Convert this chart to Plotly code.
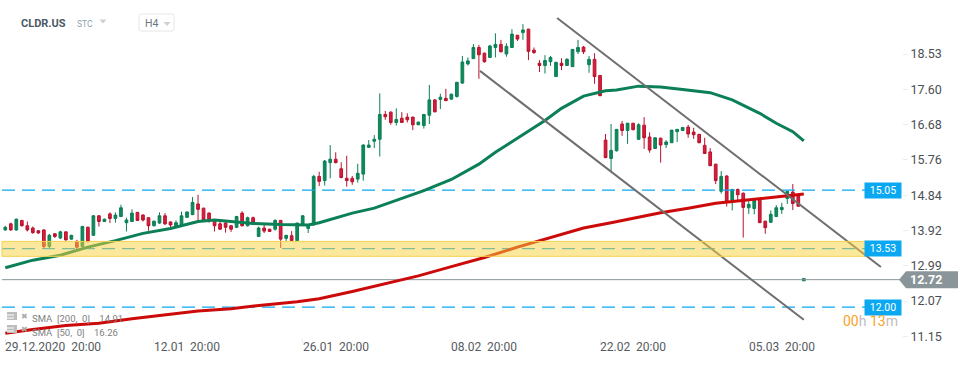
import plotly.graph_objects as go

symbol = "CLDR.US"
opens = [13.93,14.09,13.93,14.18,14.04,13.98,13.91,13.93,13.50,13.83,13.72,13.88,13.69,13.63,13.50,14.00,13.79,14.30,14.15,14.35,
14.23,14.28,14.12,14.15,14.39,14.32,14.25,14.04,14.11,14.30,14.14,14.02,14.06,14.26,14.33,14.61,14.50,14.37,14.18,14.09,
14.11,14.04,14.00,14.37,14.04,14.25,13.76,13.98,13.95,13.95,14.18,13.71,13.78,13.65,14.06,13.97,14.06,15.33,15.22,15.69,
15.78,15.53,15.28,15.28,15.26,15.39,16.09,16.25,16.30,16.95,17.01,16.74,16.85,16.88,16.88,16.68,16.66,16.93,17.33,17.34,
17.37,17.35,17.42,17.77,18.27,18.41,18.70,18.55,18.44,18.70,18.78,18.53,18.70,19.02,19.09,19.18,18.63,18.29,18.23,18.33,
17.94,18.29,18.23,18.20,18.59,18.71,18.25,18.39,17.97,16.28,15.80,16.00,16.70,16.53,16.72,16.30,16.67,16.36,16.06,16.33,
16.16,16.21,16.50,16.53,16.62,16.49,16.43,16.14,15.97,15.65,14.94,15.34,14.71,14.99,14.89,14.51,14.49,14.75,14.16,14.13,
14.28,14.46,14.75,14.92,14.82,12.60]
highs = [14.04,14.12,14.23,14.19,14.15,14.02,13.92,13.95,13.83,13.85,13.91,13.89,13.80,13.67,14.04,14.02,14.32,14.32,14.23,14.39,
14.39,14.59,14.25,14.47,14.39,14.34,14.26,14.17,14.39,14.37,14.15,14.18,14.41,14.41,14.79,14.85,14.51,14.39,14.21,14.15,
14.15,14.06,14.30,14.42,14.28,14.28,14.02,14.06,13.96,14.21,14.19,13.80,13.90,14.12,14.32,14.08,15.37,15.45,15.76,16.15,
15.96,15.70,15.87,15.34,15.66,16.17,16.28,16.41,17.50,17.04,17.03,17.11,17.01,16.98,16.89,16.76,16.95,17.72,17.35,17.49,
17.62,17.49,17.80,18.48,18.44,18.79,18.77,18.57,18.77,19.07,18.90,18.81,19.18,19.03,19.31,19.19,18.70,18.37,18.50,18.48,
18.33,18.42,18.42,18.65,18.90,18.74,18.48,18.55,17.98,16.44,16.70,16.57,16.78,16.73,16.73,16.72,16.88,16.48,16.35,16.34,
16.28,16.54,16.57,16.62,16.68,16.60,16.44,16.34,16.07,15.66,15.47,15.36,15.00,15.01,14.91,14.68,14.74,14.76,14.17,14.44,
14.58,14.64,14.94,15.13,14.83,12.67]
lows = [13.91,13.91,13.91,14.02,13.89,13.83,13.83,13.44,13.44,13.72,13.69,13.65,13.68,13.41,13.48,13.60,13.78,14.02,14.14,14.11,
14.12,14.27,13.89,14.14,14.17,14.15,13.91,14.02,14.09,14.06,14.00,13.98,14.04,14.25,14.32,14.19,14.18,14.12,13.89,13.93,
13.86,13.88,13.98,14.02,14.02,14.11,13.75,13.85,13.88,13.91,13.46,13.64,13.64,13.64,14.05,13.85,14.04,15.08,15.09,15.28,
15.67,15.28,15.06,15.11,15.17,15.22,16.07,16.07,15.85,16.81,16.68,16.66,16.73,16.74,16.54,16.67,16.58,16.70,17.00,17.09,
17.30,17.34,17.39,17.75,18.23,18.40,17.88,18.30,18.43,18.44,18.57,18.46,18.70,18.87,18.90,18.37,18.53,18.06,18.02,18.22,
17.93,18.11,18.22,18.19,18.53,18.53,18.04,17.75,17.43,15.81,15.46,15.98,16.39,16.18,16.54,16.28,16.05,15.95,16.05,15.69,
16.07,16.21,16.23,16.52,16.34,16.31,16.20,15.92,15.60,15.13,14.88,14.54,14.44,14.71,13.73,14.35,14.34,14.11,13.83,14.12,
14.27,14.35,14.61,14.45,14.54,12.60]
closes = [14.00,13.93,14.21,14.04,13.93,13.86,13.85,13.50,13.79,13.76,13.88,13.67,13.79,13.48,14.02,13.63,14.30,14.15,14.21,14.23,
14.32,14.51,14.19,14.37,14.18,14.19,14.04,14.16,14.30,14.09,14.06,14.12,14.30,14.40,14.65,14.47,14.19,14.19,14.04,13.95,
14.00,13.95,14.28,14.04,14.25,14.12,13.98,13.90,13.89,14.18,13.69,13.79,13.65,14.11,14.30,14.06,15.33,15.20,15.73,15.78,
15.69,15.30,15.22,15.19,15.41,16.15,16.15,16.30,16.95,16.89,16.74,16.82,16.74,16.81,16.68,16.75,16.95,17.33,17.02,17.40,
17.31,17.48,17.79,18.32,18.35,18.70,18.51,18.33,18.74,18.78,18.59,18.73,19.05,18.92,19.16,18.60,18.57,18.23,18.36,18.44,
18.31,18.23,18.39,18.65,18.70,18.59,18.39,17.94,17.44,15.82,16.01,16.56,16.53,16.72,16.55,16.68,16.34,16.02,16.34,16.15,
16.23,16.54,16.56,16.61,16.44,16.42,16.21,15.93,15.61,15.22,15.33,14.66,14.99,14.85,14.52,14.60,14.70,14.12,13.99,14.34,
14.51,14.52,14.94,14.62,14.55,12.66]
candle_index = list(range(len(opens)))

sma50_index = [0,5,10,15,20,25,30,35,38,40,45,50,55,57,59,63,67,71,76,81,86,89,94,98,101,105,109,111,115,119,123,128,132,137,140,143,145]
sma50_value = [12.94,13.14,13.27,13.48,13.65,13.84,13.97,14.15,14.19,14.16,14.10,14.07,14.06,14.12,14.21,14.37,14.50,14.71,14.96,15.25,15.65,15.96,16.41,16.79,17.11,17.43,17.57,17.59,17.69,17.67,17.60,17.52,17.33,16.98,16.72,16.50,16.26]
sma200_index = [0,5,11,17,23,29,35,41,47,53,57,63,69,75,81,87,93,99,105,110,113,119,124,129,136,145]
sma200_value = [11.23,11.33,11.43,11.49,11.61,11.72,11.81,11.87,11.97,12.05,12.13,12.32,12.52,12.73,12.97,13.21,13.48,13.74,13.98,14.12,14.21,14.38,14.50,14.63,14.73,14.87]

channel_upper_index = [100.2,159.0]
channel_upper_value = [19.47,12.96]
channel_lower_index = [86.2,145.0]
channel_lower_value = [18.09,11.58]

level_span_index = [-0.6,156.3]
level_prices = [14.97,13.44,11.91]
level_labels = ["15.05","13.53","12.00"]
zone_low, zone_high = 13.24,13.63
last_price = 12.63
last_label = "12.72"

ytick_positions = [18.53,17.60,16.68,15.76,14.84,13.92,12.99,12.07,11.15]
ytick_labels = ["18.53","17.60","16.68","15.76","14.84","13.92","12.99","12.07","11.15"]
xtick_index = [0,27,54,81,108,135]
xtick_labels = ["29.12.2020\u00a0\u00a020:00","12.01\u00a0\u00a020:00","26.01\u00a0\u00a020:00","08.02\u00a0\u00a020:00","22.02\u00a0\u00a020:00","05.03\u00a0\u00a020:00"]
legend_entries = ["SMA\u00a0\u00a0[200,\u00a0\u00a00]\u00a0\u00a0\u00a0\u00a014.91","SMA\u00a0\u00a0[50,\u00a0\u00a00]\u00a0\u00a0\u00a0\u00a016.26"]

W,H,PR,PB = 970,365,68,27
PW,PH = W-PR,H-PB
FONT = "Roboto"
BLUE = "#0BA8F2"
GREY = "#8A9599"
GREEN = "#0B7F56"
RED = "#CC0A0A"
px = lambda v: v/PW
py = lambda v: 1-v/PH

fig = go.Figure()
for yv in level_prices:
    fig.add_trace(go.Scatter(x=level_span_index,y=[yv,yv],mode="lines",hoverinfo="skip",line=dict(color=BLUE,width=1.2,dash="13px,7px")))
fig.add_trace(go.Scatter(x=[level_span_index[0],162.8],y=[last_price,last_price],mode="lines",hoverinfo="skip",line=dict(color=GREY,width=1)))
fig.add_trace(go.Scatter(x=sma200_index,y=sma200_value,mode="lines",line=dict(color=RED,width=3)))
fig.add_trace(go.Candlestick(x=candle_index,open=opens,high=highs,low=lows,close=closes,whiskerwidth=0,
    increasing=dict(line=dict(color=GREEN,width=1),fillcolor="#0F8A5A"),
    decreasing=dict(line=dict(color="#B8122E",width=1),fillcolor="#D81E3A")))
fig.add_trace(go.Scatter(x=sma50_index,y=sma50_value,mode="lines",line=dict(color=GREEN,width=3)))
for xs,ys in ((channel_upper_index,channel_upper_value),(channel_lower_index,channel_lower_value)):
    fig.add_trace(go.Scatter(x=xs,y=ys,mode="lines",line=dict(color="#6F6F6F",width=2)))

shapes = [dict(type="rect",xref="x",yref="y",x0=level_span_index[0],x1=level_span_index[1],y0=zone_low,y1=zone_high,layer="above",
               fillcolor="rgba(248,210,60,0.5)",line=dict(color="#F6D24A",width=1)),
          dict(type="path",xref="paper",yref="y",xsizemode="pixel",ysizemode="pixel",xanchor=1,yanchor=last_price,layer="above",
               path="M -3 0 L 4 -8.5 L 56 -8.5 L 56 8.5 L 4 8.5 Z",fillcolor=GREY,line=dict(width=0)),
          dict(type="path",xref="paper",yref="paper",layer="above",
               path=f"M {px(141)} {py(14)} L {px(172)} {py(14)} Q {px(174)} {py(14)} {px(174)} {py(16)} L {px(174)} {py(29)} Q {px(174)} {py(31)} {px(172)} {py(31)} L {px(141)} {py(31)} Q {px(139)} {py(31)} {px(139)} {py(29)} L {px(139)} {py(16)} Q {px(139)} {py(14)} {px(141)} {py(14)} Z",
               line=dict(color="#E6E6E6",width=1))]
for cx,cy,sz in ((103,21,3.5),(167,23.5,3.5)):
    shapes.append(dict(type="path",xref="paper",yref="paper",layer="above",
        path=f"M {px(cx-sz)} {py(cy-1.5)} L {px(cx+sz)} {py(cy-1.5)} L {px(cx)} {py(cy+2.5)} Z",fillcolor="#CFCFCF",line=dict(width=0)))
for ly in (316,329):
    shapes.append(dict(type="rect",xref="paper",yref="paper",x0=px(7),x1=px(17),y0=py(ly-4),y1=py(ly+4),layer="above",fillcolor="#BDBDBD",line=dict(width=0)))
    shapes.append(dict(type="line",xref="paper",yref="paper",x0=px(7),x1=px(14),y0=py(ly-1),y1=py(ly-1),layer="above",line=dict(color="#FFFFFF",width=1)))
    shapes.append(dict(type="line",xref="paper",yref="paper",x0=px(7),x1=px(14),y0=py(ly+2),y1=py(ly+2),layer="above",line=dict(color="#FFFFFF",width=1)))

anns = []
def note(x,xref,y,yref,text,font,xanchor="left",**kw):
    if xanchor=="left":
        kw["xshift"]=-2
    anns.append(dict(x=x,xref=xref,y=y,yref=yref,text=text,showarrow=False,xanchor=xanchor,yanchor="middle",font=font,**kw))
for i,t in zip(xtick_index,xtick_labels):
    note(i,"x",py(347),"paper",t,dict(family=FONT,size=12,color="#555B60"))
for yv,t in zip(level_prices,level_labels):
    note(px(883),"paper",yv,"y",t,dict(family=FONT,size=10.5,color="#FFFFFF"),xanchor="center",width=36,height=15,bgcolor=BLUE,borderpad=0)
note(px(926),"paper",last_price,"y",f"<b>{last_label}</b>",dict(family=FONT,size=12.5,color="#FFFFFF"),xanchor="center")
note(px(843),"paper",py(320.5),"paper",'<span style="color:#F7A32B">00</span><span style="color:#BDBDBD">h </span><span style="color:#F7A32B">13</span><span style="color:#BDBDBD">m</span>',dict(family=FONT,size=14))
for ly,t in zip((318.5,332),legend_entries):
    note(px(32),"paper",py(ly),"paper",t,dict(family=FONT,size=9.5,color="#808080"))
for ly in (316,329):
    note(px(24),"paper",py(ly),"paper","✖",dict(family="DejaVu Sans",size=8,color="#ABABAB"),xanchor="center")
note(px(21),"paper",py(23),"paper",f"<b>{symbol}</b>",dict(family=FONT,size=11,color="#4B5A63"))
note(px(77),"paper",py(24),"paper","STC",dict(family=FONT,size=8.5,color="#8CA2B0"))
note(px(145),"paper",py(23.5),"paper","H4",dict(family=FONT,size=10.5,color="#6B7780"))

fig.update_layout(width=W,height=H,margin=dict(l=0,r=PR,t=0,b=PB,autoexpand=False),paper_bgcolor="#FFFFFF",plot_bgcolor="#FFFFFF",showlegend=False,
    shapes=shapes,annotations=anns,
    xaxis=dict(range=[-0.962,162.83],rangeslider=dict(visible=False),showgrid=False,zeroline=False,showline=False,
               tickmode="array",tickvals=xtick_index,ticktext=[""]*len(xtick_index),ticks="outside",ticklen=4,tickcolor="#ECECEC"),
    yaxis=dict(side="right",range=[11.105,19.942],showgrid=False,zeroline=False,showline=False,tickmode="array",
               tickvals=ytick_positions,ticktext=ytick_labels,ticks="outside",ticklen=5,tickcolor="#EDEDED",
               tickfont=dict(family=FONT,size=12.5,color="#4A4F54")))
fig.write_html("out.html",config={"displayModeBar":False},post_script="document.body.style.margin='0';document.documentElement.style.overflow='hidden';")
